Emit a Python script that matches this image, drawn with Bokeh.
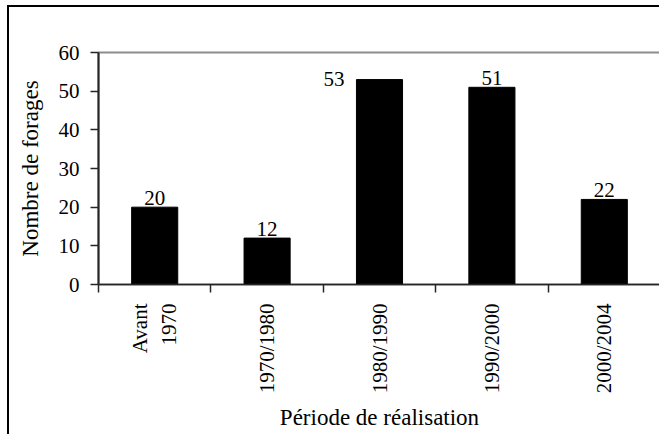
import math
from bokeh.plotting import figure
from bokeh.models import ColumnDataSource, FixedTicker, Range1d
from bokeh.core.properties import value
from bokeh.embed import file_html
from bokeh.resources import INLINE

# ---- data ----
periods = ["Avant\n1970", "1970/1980", "1980/1990", "1990/2000", "2000/2004"]
counts = [20, 12, 53, 51, 22]
y_ticks = [0, 10, 20, 30, 40, 50, 60]
x_title = "Période de réalisation"
y_title = "Nombre de forages"
labels_left_of_bar = ["1980/1990"]

FONT = "Liberation Serif"
FS = "21px"
FS_TITLE = "23px"
BAR_W = 0.41

n = len(periods)
xs = list(range(n))


def right_align(label):
    # pad shorter lines of a multi-line tick label so their ends line up at the axis
    lines = label.split("\n")
    if len(lines) == 1:
        return label
    longest = max(len(l) for l in lines)
    return "\n".join("\u00a0" * (2 * (longest - len(l)) // 1 if False else (longest - len(l)) * 2) + l
                     if len(l) < longest else l for l in lines)


src_top = ColumnDataSource(dict(
    x=[x for x, p_ in zip(xs, periods) if p_ not in labels_left_of_bar],
    y=[c for c, p_ in zip(counts, periods) if p_ not in labels_left_of_bar],
    t=[str(c) for c, p_ in zip(counts, periods) if p_ not in labels_left_of_bar],
))
src_left = ColumnDataSource(dict(
    x=[x - BAR_W / 2 for x, p_ in zip(xs, periods) if p_ in labels_left_of_bar],
    y=[c for c, p_ in zip(counts, periods) if p_ in labels_left_of_bar],
    t=[str(c) for c, p_ in zip(counts, periods) if p_ in labels_left_of_bar],
))
bars = ColumnDataSource(dict(x=xs, top=counts))

p = figure(width=652, height=429, output_backend="svg", toolbar_location=None, tools="",
           x_range=Range1d(-0.5, n - 0.5), y_range=Range1d(0, 60),
           min_border_left=89, min_border_top=45, min_border_right=1, min_border_bottom=152,
           margin=(5, 0, 0, 7),
           styles={"border-left": "2px solid #000", "border-top": "2px solid #000"})

p.vbar(x="x", top="top", width=BAR_W, source=bars, fill_color="black", line_color="black")

p.text(x="x", y="y", text="t", source=src_top, text_align="center", text_baseline="bottom",
       y_offset=-2, text_font=value(FONT), text_font_size=FS, text_color="black")
p.text(x="x", y="y", text="t", source=src_left, text_align="right", text_baseline="middle",
       x_offset=-12, y_offset=-1, text_font=value(FONT), text_font_size=FS, text_color="black")

p.xgrid.visible = False
p.ygrid.visible = False
p.outline_line_color = "#8c8c8c"
p.outline_line_width = 2
p.background_fill_color = "white"
p.border_fill_color = "white"

xa = p.xaxis[0]
xa.ticker = FixedTicker(ticks=xs, minor_ticks=[x - 0.5 for x in xs] + [n - 0.5])
xa.major_label_overrides = {x: right_align(lab) for x, lab in zip(xs, periods)}
xa.major_label_orientation = math.pi / 2
xa.major_tick_line_color = None
xa.major_tick_out = 8
xa.major_tick_in = 0
xa.minor_tick_out = 8
xa.minor_tick_in = 0
xa.minor_tick_line_color = "#262626"
xa.minor_tick_line_width = 1.5
xa.major_label_standoff = 11
xa.axis_line_color = "#262626"
xa.axis_line_width = 1.5
xa.axis_label = x_title
xa.axis_label_standoff = 9

ya = p.yaxis[0]
ya.ticker = FixedTicker(ticks=y_ticks, minor_ticks=[])
ya.major_tick_out = 8
ya.major_tick_in = 0
ya.major_tick_line_color = "#262626"
ya.major_tick_line_width = 1.5
ya.axis_line_color = "#262626"
ya.axis_line_width = 2
ya.major_label_standoff = 11
ya.axis_label = y_title
ya.axis_label_standoff = 13

for ax in (xa, ya):
    ax.major_label_text_font = FONT
    ax.major_label_text_font_size = FS
    ax.major_label_text_color = "black"
    ax.axis_label_text_font = FONT
    ax.axis_label_text_font_size = FS_TITLE
    ax.axis_label_text_font_style = "normal"
    ax.axis_label_text_color = "black"

open("out.html", "w").write(file_html(p, INLINE))
